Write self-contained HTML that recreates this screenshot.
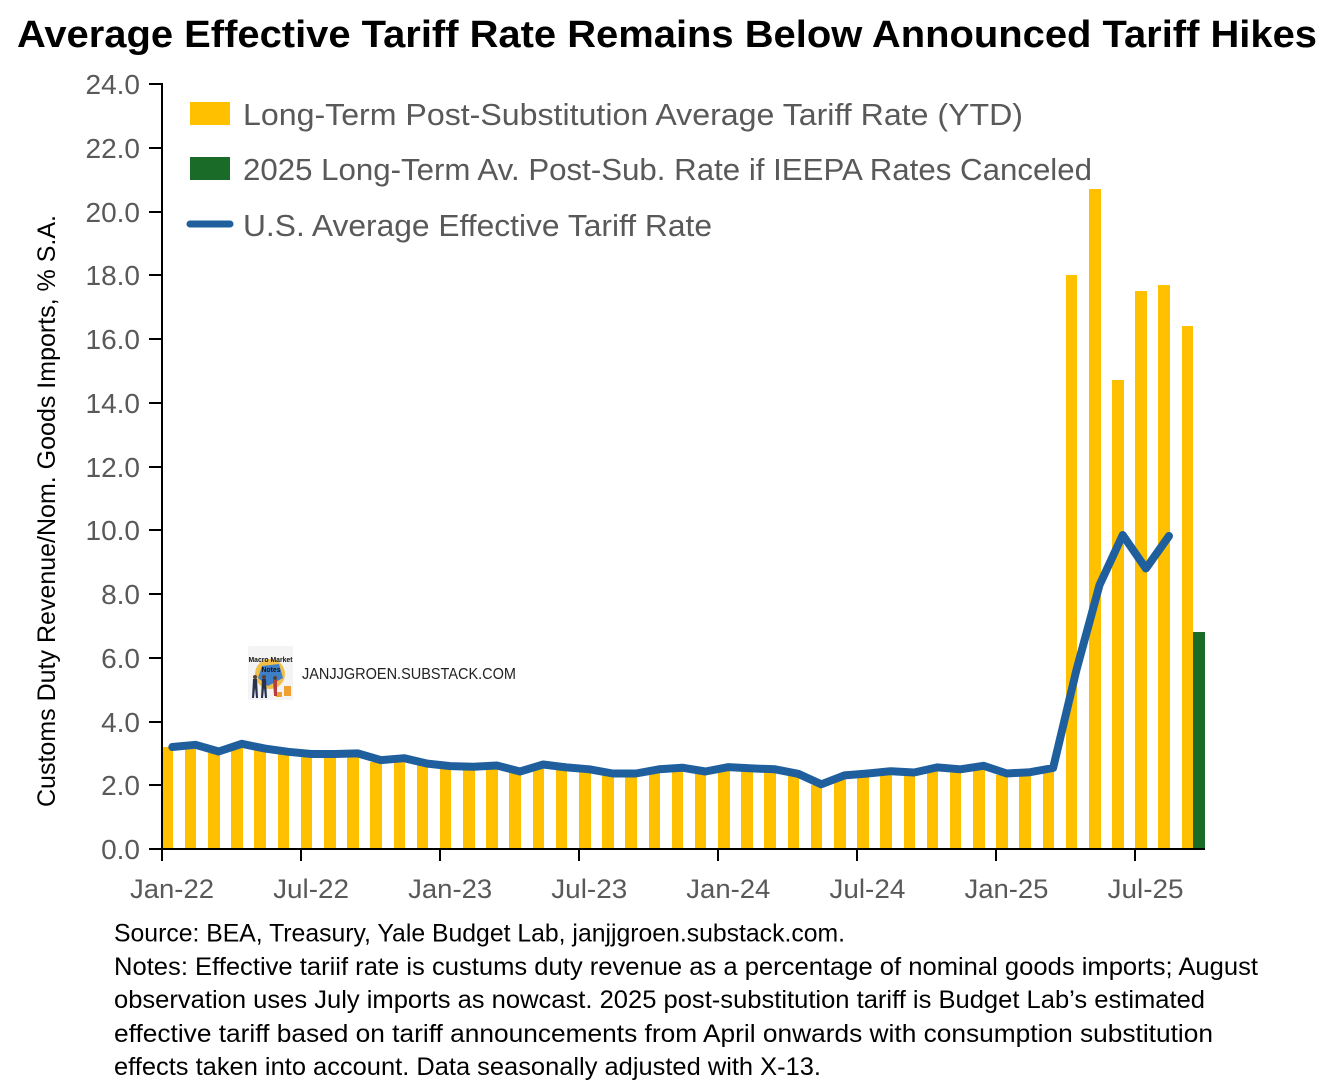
<!DOCTYPE html>
<html lang="en">
<head>
<meta charset="utf-8">
<title>Average Effective Tariff Rate</title>
<style>
html,body{margin:0;padding:0;background:#fff;width:1332px;height:1080px;overflow:hidden}
svg{display:block}
text{font-family:"Liberation Sans",sans-serif}
</style>
</head>
<body>
<svg id="chart" width="1332" height="1080" viewBox="0 0 1332 1080" xmlns="http://www.w3.org/2000/svg">
  <rect width="1332" height="1080" fill="#fff"/>
  <text x="17" y="47" font-size="38" font-weight="700" fill="#000" textLength="1300" lengthAdjust="spacingAndGlyphs">Average Effective Tariff Rate Remains Below Announced Tariff Hikes</text>

  <text transform="translate(55,807) rotate(-90)" font-size="25" fill="#000" textLength="592" lengthAdjust="spacingAndGlyphs">Customs Duty Revenue/Nom. Goods Imports, % S.A.</text>

  <g id="bars"></g>
  <g id="axes"></g>
  <path id="rate-line" fill="none" stroke="#1F5F9D" stroke-width="8" stroke-linejoin="round" stroke-linecap="round"/>

  <g>
    <g>
      <rect x="190" y="102" width="40" height="23" fill="#FFC000"/>
      <text x="243" y="125" font-size="31" fill="#595959" textLength="780" lengthAdjust="spacingAndGlyphs">Long-Term Post-Substitution Average Tariff Rate (YTD)</text>
    </g>
    <g>
      <rect x="190" y="157" width="40" height="23" fill="#1A6B28"/>
      <text x="243" y="180" font-size="31" fill="#595959" textLength="849" lengthAdjust="spacingAndGlyphs">2025 Long-Term Av. Post-Sub. Rate if IEEPA Rates Canceled</text>
    </g>
    <g>
      <line x1="190" y1="224" x2="230" y2="224" stroke="#1F5F9D" stroke-width="7" stroke-linecap="round"/>
      <text x="243" y="236" font-size="31" fill="#595959" textLength="469" lengthAdjust="spacingAndGlyphs">U.S. Average Effective Tariff Rate</text>
    </g>
  </g>

  <g>
    <g>
      <rect x="248" y="646" width="45" height="54" rx="2" fill="#f4f4f4"/>
      <circle cx="270" cy="674" r="15" fill="#f2c04a"/>
      <path d="M262 666 L279 664 L283 678 L268 686 L258 678 Z" fill="#3f7fc7"/>
      <rect x="284" y="686" width="7" height="10" fill="#f0a030"/>
      <rect x="276" y="692" width="6" height="5" fill="#f0a030"/>
      <circle cx="255" cy="677" r="2" fill="#5a4030"/>
      <path d="M253 679 H257 L258 698 H256 L255 688 L254 698 H252 Z" fill="#26304f"/>
      <circle cx="264" cy="677" r="2" fill="#5a4030"/>
      <path d="M262 679 H266 L267 698 H265 L264 688 L263 698 H261 Z" fill="#26304f"/>
      <circle cx="275" cy="678" r="2" fill="#5a4030"/>
      <path d="M273 680 H277 L277 696 H274 Z" fill="#b53d3d"/>
      <text x="270.5" y="662" font-size="7.5" font-weight="700" text-anchor="middle" fill="#111" textLength="44" lengthAdjust="spacingAndGlyphs">Macro Market</text>
      <text x="271" y="672" font-size="7.5" font-weight="700" text-anchor="middle" fill="#111" textLength="19" lengthAdjust="spacingAndGlyphs">Notes</text>
    </g>
    <text x="302" y="679" font-size="15.5" fill="#222" textLength="214" lengthAdjust="spacingAndGlyphs">JANJJGROEN.SUBSTACK.COM</text>
  </g>

  <g font-size="25" fill="#000">
    <text x="114" y="941.5" textLength="731" lengthAdjust="spacingAndGlyphs">Source: BEA, Treasury, Yale Budget Lab, janjjgroen.substack.com.</text>
    <text x="114" y="975" textLength="1144" lengthAdjust="spacingAndGlyphs">Notes: Effective tariif rate is custums duty revenue as a percentage of nominal goods imports; August</text>
    <text x="114" y="1008" textLength="1091" lengthAdjust="spacingAndGlyphs">observation uses July imports as nowcast. 2025 post-substitution tariff is Budget Lab’s estimated</text>
    <text x="114" y="1042" textLength="1099" lengthAdjust="spacingAndGlyphs">effective tariff based on tariff announcements from April onwards with consumption substitution</text>
    <text x="114" y="1075" textLength="707" lengthAdjust="spacingAndGlyphs">effects taken into account. Data seasonally adjusted with X-13.</text>
  </g>
</svg>
<script>
const monthLabels = ["Jan-22","Jul-22","Jan-23","Jul-23","Jan-24","Jul-24","Jan-25","Jul-25"];
const monthLabelIndex = [0,6,12,18,24,30,36,42];
const yTicks = [0,2,4,6,8,10,12,14,16,18,20,22,24];
const yellowBars = [3.2,3.15,3.02,3.25,3.1,3.0,2.93,2.93,2.95,2.74,2.8,2.66,2.56,2.55,2.57,2.38,2.6,2.5,2.47,2.32,2.32,2.45,2.5,2.38,2.52,2.48,2.48,2.31,2.0,2.26,2.32,2.39,2.35,2.52,2.45,2.58,2.32,2.38,2.5,18.0,20.7,14.7,17.5,17.7,16.4];
const greenBars = [[44,6.8]];
const rateLine = [3.2,3.27,3.06,3.3,3.15,3.05,2.98,2.98,3.0,2.79,2.85,2.68,2.6,2.58,2.62,2.43,2.65,2.56,2.5,2.37,2.37,2.5,2.55,2.43,2.57,2.53,2.5,2.36,2.03,2.31,2.37,2.44,2.4,2.56,2.5,2.61,2.37,2.41,2.54,5.6,8.28,9.85,8.8,9.82];

const NS = "http://www.w3.org/2000/svg";
const plotLeft = 162, plotRight = 1205, plotBottom = 849, plotTop = 84;
const monthWidth = 23.18;
const xTick = i => plotLeft + i * monthWidth;
const xSnap = i => Math.floor(xTick(i) + 0.25);
const xMid = i => xTick(i) + 10.3;
const yVal = v => plotBottom - v * (plotBottom - plotTop) / 24;

const barsG = document.getElementById('bars');
const axesG = document.getElementById('axes');

function makeRect(l, r0, value, fill) {
  const r = document.createElementNS(NS, 'rect');
  const rr = Math.round(r0), t = Math.round(yVal(value));
  r.setAttribute('x', l);
  r.setAttribute('y', t);
  r.setAttribute('width', rr - l);
  r.setAttribute('height', plotBottom - t);
  r.setAttribute('fill', fill);
  return r;
}
yellowBars.forEach((v, i) => {
  const r = makeRect(xSnap(i), xTick(i) + 11.3, v, '#FFC000');
  
  
  barsG.appendChild(r);
});
greenBars.forEach(([i, v]) => {
  const r = makeRect(Math.round(xTick(i) + 11.3), xTick(i) + 23.17, v, '#1A6B28');
  
  
  barsG.appendChild(r);
});

function makeLine(x1, y1, x2, y2) {
  const l = document.createElementNS(NS, 'line');
  l.setAttribute('x1', x1); l.setAttribute('y1', y1);
  l.setAttribute('x2', x2); l.setAttribute('y2', y2);
  l.setAttribute('stroke', '#000');
  l.setAttribute('stroke-width', 2);
  return l;
}
const yAxis = makeLine(plotLeft, plotTop - 1, plotLeft, plotBottom + 1);


axesG.appendChild(yAxis);
const xAxis = makeLine(plotLeft - 13, plotBottom, plotRight, plotBottom);


axesG.appendChild(xAxis);

yTicks.forEach(v => {
  const y = Math.round(yVal(v));
  const t = makeLine(plotLeft - 13, y, plotLeft, y);
  
  
  axesG.appendChild(t);
  const s = document.createElementNS(NS, 'text');
  s.setAttribute('x', 140);
  s.setAttribute('y', y + 10);
  s.setAttribute('text-anchor', 'end');
  s.setAttribute('font-size', '28');
  s.setAttribute('fill', '#595959');
  
  
  s.textContent = v.toFixed(1);
  axesG.appendChild(s);
});

monthLabels.forEach((lab, k) => {
  const i = monthLabelIndex[k];
  const x = xSnap(i);
  const t = makeLine(x, plotBottom, x, plotBottom + 12);
  
  
  axesG.appendChild(t);
  const s = document.createElementNS(NS, 'text');
  s.setAttribute('x', xTick(i) + 10);
  s.setAttribute('y', 898);
  s.setAttribute('text-anchor', 'middle');
  s.setAttribute('font-size', '27');
  s.setAttribute('fill', '#595959');
  s.setAttribute('textLength', lab.startsWith('Jan') ? 84 : 76);
  s.setAttribute('lengthAdjust', 'spacingAndGlyphs');
  
  
  s.textContent = lab;
  axesG.appendChild(s);
});

document.getElementById('rate-line').setAttribute('d',
  rateLine.map((v, i) => (i ? 'L' : 'M') + xMid(i).toFixed(1) + ' ' + yVal(v).toFixed(1)).join(' '));
</script>
</body>
</html>
